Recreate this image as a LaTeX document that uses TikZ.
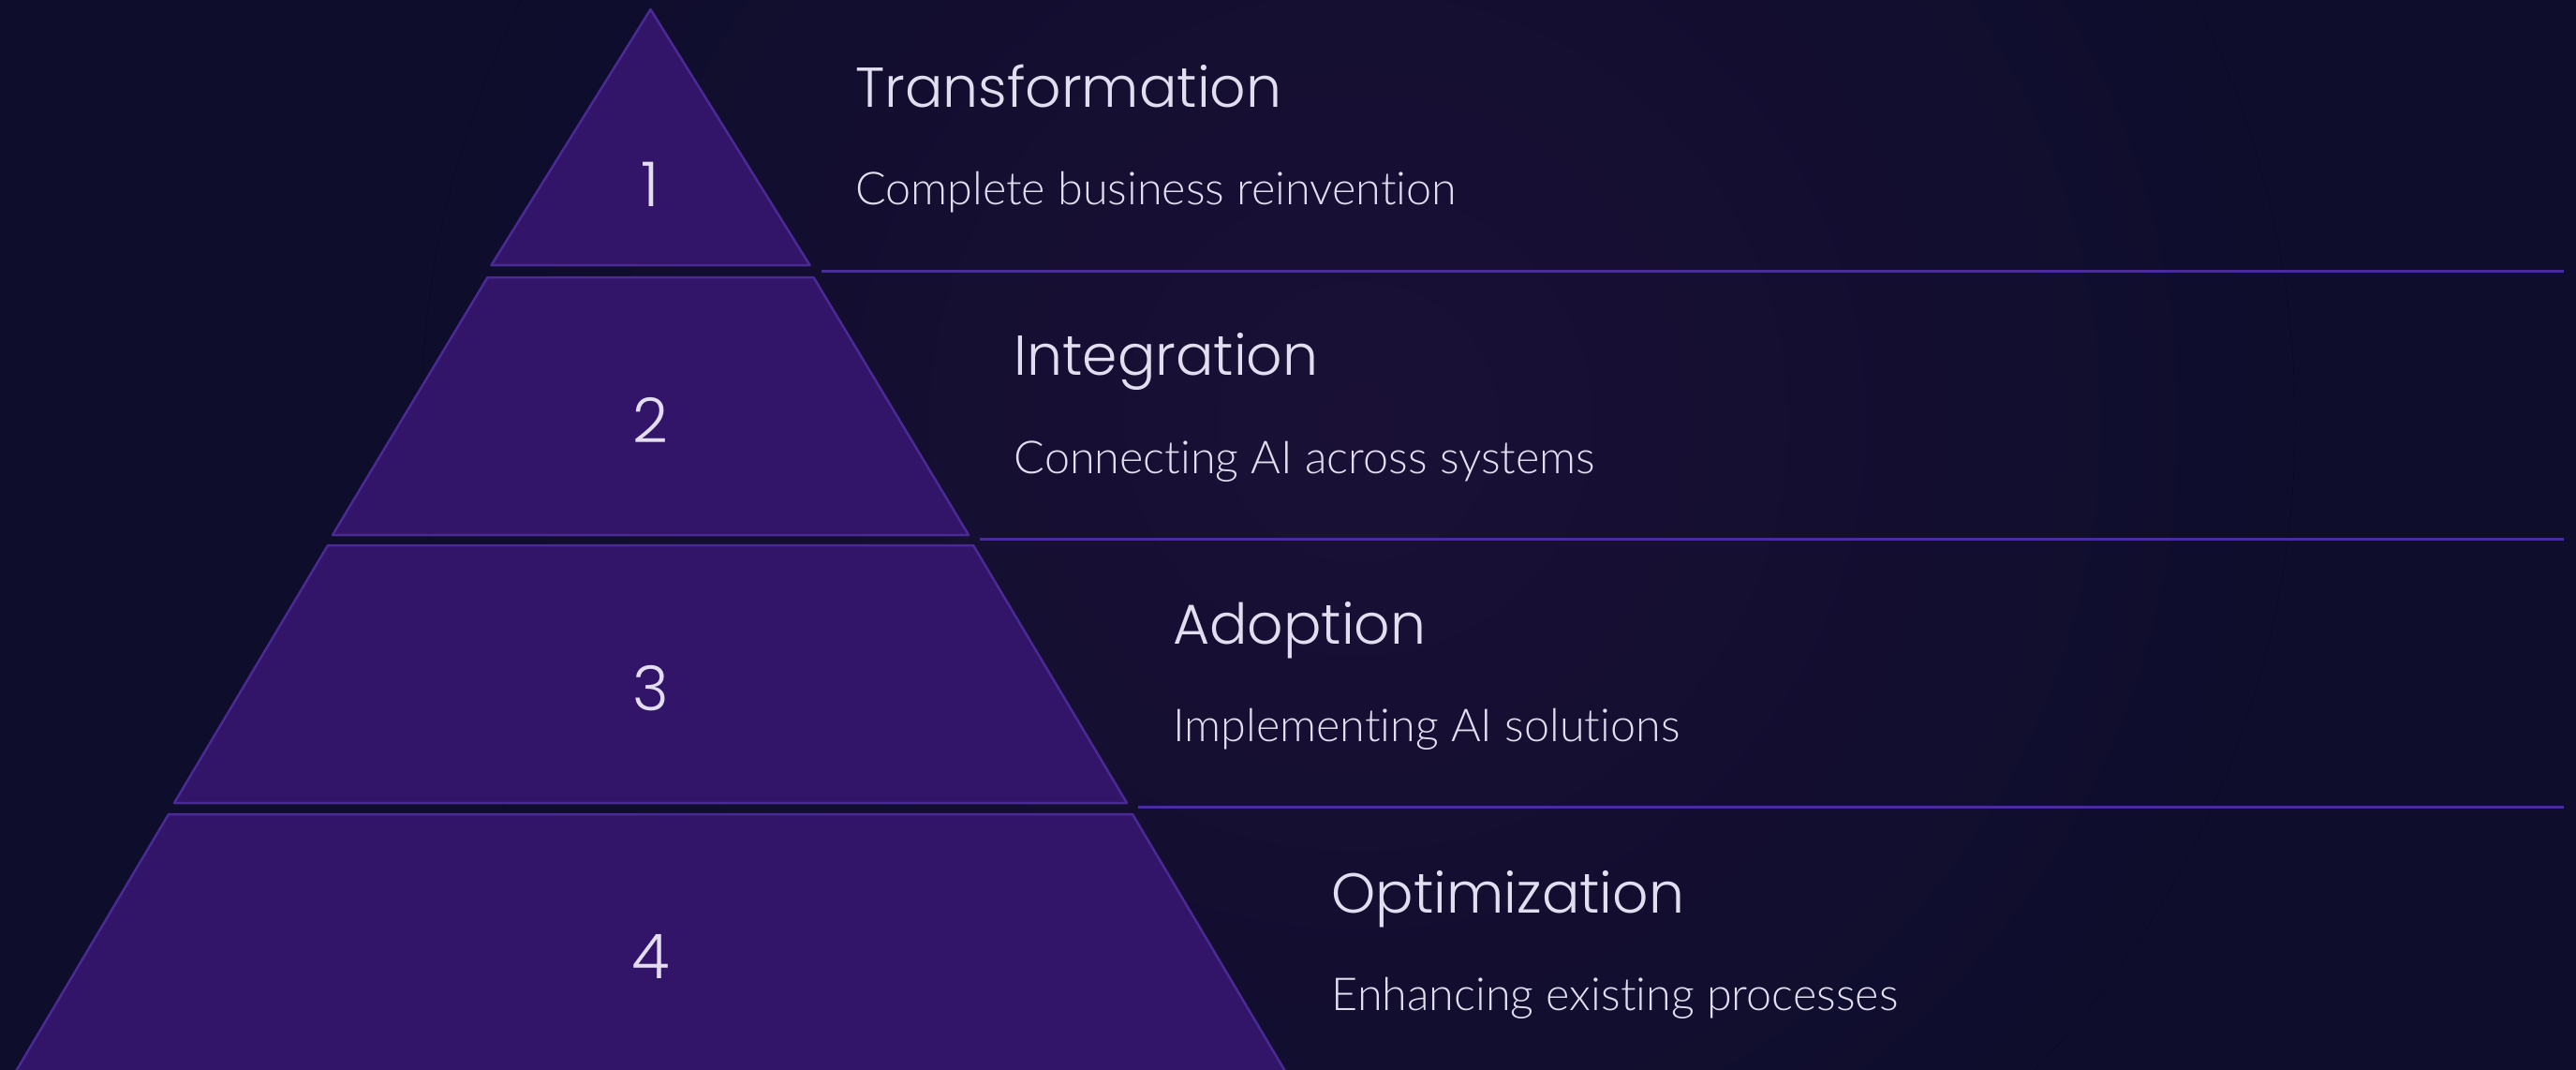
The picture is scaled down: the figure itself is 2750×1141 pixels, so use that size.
\documentclass[tikz,border=0pt]{standalone}
\usepackage{fontspec}
\newfontfamily\titlefont{Poppins Light}
\newfontfamily\descfont{Lato Light}[Ligatures={NoCommon,NoContextual}]
\definecolor{bgbase}{HTML}{0E0D2C}
\definecolor{bgglow}{HTML}{1A1036}
\definecolor{tierfill}{HTML}{321569}
\definecolor{tierline}{HTML}{4A2A94}
\definecolor{sepline}{HTML}{4B2C9E}
\definecolor{txt}{HTML}{E2DEF0}
\tikzset{
  tier/.style={fill=tierfill, draw=tierline, line width=2.5pt, line join=round},
  sep/.style={draw=sepline, line width=3pt},
  num/.style={text=txt, font=\titlefont\fontsize{66}{70}\selectfont, inner sep=0pt},
  ttl/.style={text=txt, font=\titlefont\fontsize{60}{66}\selectfont, anchor=base west, inner sep=0pt},
  dsc/.style={text=txt, font=\descfont\fontsize{48.5}{56}\selectfont, anchor=base west, inner sep=0pt}
}
\begin{document}
\begin{tikzpicture}[x=1pt,y=-1pt]
\useasboundingbox (0,0) rectangle (2750,1141);
\fill[bgbase] (-10,-10) rectangle (2760,1151);
\begin{scope}
\clip (-10,-10) rectangle (2760,1151);
\fill[inner color=bgglow, outer color=bgbase] (1450,450) circle (1000);
\end{scope}
% tiers
\draw[tier] (694.5,10) -- (864.5,283) -- (524.5,283) -- cycle;
\draw[tier] (520.5,296) -- (868.5,296) -- (1034,571) -- (355,571) -- cycle;
\draw[tier] (350,582) -- (1039,582) -- (1203,857) -- (186,857) -- cycle;
\draw[tier] (180,869) -- (1209,869) -- (1373,1145) -- (16,1145) -- cycle;
% numbers
\node[num] (n1) at (694.5,197) {1};
\node[num] (n2) at (694.5,448) {2};
\node[num] (n3) at (694.5,735) {3};
\node[num] (n4) at (694.5,1021) {4};
% separators
\coordinate (s1a) at (877,289); \coordinate (s1b) at (2737,289);
\coordinate (s2a) at (1046,575); \coordinate (s2b) at (2737,575);
\coordinate (s3a) at (1215,861.5); \coordinate (s3b) at (2737,861.5);
\draw[sep] (s1a) -- (s1b);
\draw[sep] (s2a) -- (s2b);
\draw[sep] (s3a) -- (s3b);
% texts
\node[ttl] (t1) at (913,114) {Transformation};
\node[dsc] (d1) at (913,218.3) {Complete business reinvention};
\node[ttl] (t2) at (1082.5,400.7) {Integration};
\node[dsc] (d2) at (1082.5,505) {Connecting AI across systems};
\node[ttl] (t3) at (1252,687.3) {Adoption};
\node[dsc] (d3) at (1252,791.7) {Implementing AI solutions};
\node[ttl] (t4) at (1421.5,974) {Optimization};
\node[dsc] (d4) at (1421.5,1078.3) {Enhancing existing processes};
\end{tikzpicture}
\end{document}
